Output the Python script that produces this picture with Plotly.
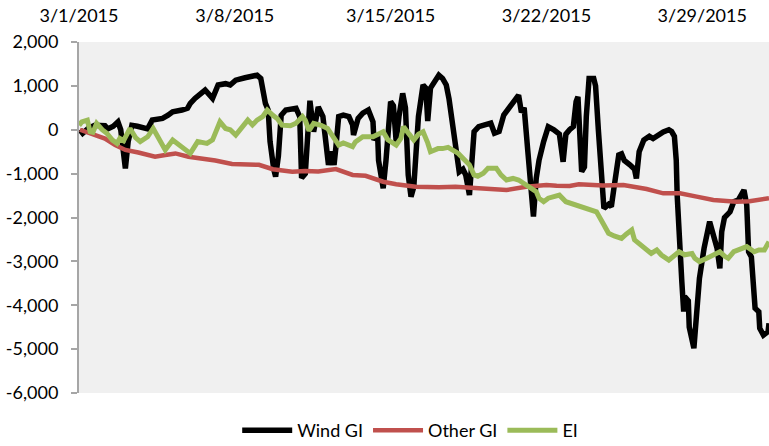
import datetime as dt
import plotly.graph_objects as go

start = dt.datetime(2015, 3, 1)

wind_hours = [1, 4, 10, 17, 28, 31, 37, 42, 45, 50, 53, 57, 63, 68, 74, 79, 90, 96, 101, 111, 117, 120, 125, 136,
              144, 150, 158, 163, 169, 179, 192, 196, 199, 201, 204, 206, 210, 212, 215, 218, 223, 234, 238, 240,
              244, 249, 253, 258, 263, 266, 269, 272, 275, 277, 280, 285, 291, 295, 296, 301, 306, 312, 317, 318,
              322, 323, 328, 331, 336, 339, 342, 345, 349, 352, 355, 358, 361, 366, 371, 374, 376, 379, 383, 388,
              392, 396, 399, 403, 406, 410, 414, 417, 421, 423, 426, 431, 439, 444, 448, 453, 458, 464, 469, 474,
              477, 480, 484, 490, 493, 496, 501, 506, 512, 518, 522, 525, 529, 533, 536, 538, 542, 545, 547, 550,
              555, 557, 560, 563, 566, 571, 574, 577, 582, 585, 588, 594, 599, 601, 604, 609, 615, 619, 625, 630,
              636, 639, 642, 644, 645, 647, 650, 652, 653, 657, 658, 663, 666, 669, 674, 677, 680, 684, 688, 691,
              693, 696, 702, 706, 711, 717, 718, 720, 722, 725, 729, 733, 734, 738, 743, 744]
wind_gi = [0, -80, 30, 100, 90, 20, 80, 180, 0, -880, -270, 100, 80, 60, 20, 220, 260, 330, 410, 450, 490, 600, 715, 905,
           715, 1020, 1050, 1020, 1130, 1185, 1245, 1170, 800, 600, 450, -270, -900, -1070, -600, 330, 450, 490, 300, -1100,
           -1000, 660, -45, 520, 300, -400, -800, -500, -800, -400, 300, 335, 300, 110, -120, 260, 380, 450, 180, -235,
           -100, -700, -1335, -700, 640, 550, -270, 300, 830, 500, -1030, -1525, -1300, 300, 1020, 950, 200, 950, 1090, 1245,
           1170, 1020, 700, 30, -500, -960, -900, -1030, -1490, -900, -45, 70, 110, 150, -80, -40, 335, 490, 640, 790,
           400, 500, -500, -1980, -1110, -700, -270, 70, 0, -100, -730, -100, 0, 70, 640, 750, -955, -850, 300, 1170,
           1170, 1000, 0, -1030, -1790, -1700, -1750, -1300, -575, -550, -700, -800, -900, -1110, -500, -235, -150, -200, -100, -50,
           0, -40, -150, -700, -1500, -2500, -3460, -4145, -3800, -3900, -4500, -4980, -4300, -3385, -2700, -2400, -2095, -2400, -2700, -3160,
           -2325, -2000, -1870, -1640, -1600, -1375, -1500, -1715, -2780, -2900, -4070, -4150, -4525, -4680, -4600, -4410]

other_hours = [1, 17, 28, 39, 50, 64, 82, 93, 104, 118, 133, 147, 165, 179, 194, 209, 230, 244, 258, 277, 295, 309,
               328, 342, 363, 388, 406, 431, 461, 482, 504, 515, 529, 539, 565, 587, 612, 630, 648, 666, 684, 709,
               723, 744]
other_gi = [0, -120, -200, -350, -460, -520, -615, -575, -540, -615, -650, -700, -780, -790, -800, -900, -955, -940, -950,
            -895, -1030, -1050, -1185, -1240, -1300, -1310, -1300, -1335, -1375, -1300, -1260, -1275, -1280, -1245, -1270,
            -1260, -1350, -1450, -1450, -1525, -1600, -1640, -1630, -1560]

ei_hours = [0, 3, 9, 12, 15, 19, 25, 30, 36, 41, 44, 48, 55, 61, 66, 74, 80, 85, 93, 101, 109, 120, 128, 138, 144, 152,
            158, 163, 169, 176, 182, 187, 192, 198, 203, 209, 214, 219, 228, 234, 241, 244, 248, 253, 261, 268, 274,
            280, 285, 291, 295, 298, 306, 317, 322, 328, 333, 342, 347, 350, 356, 361, 366, 371, 376, 379, 387, 392,
            398, 403, 409, 414, 421, 426, 430, 436, 441, 450, 455, 461, 468, 474, 479, 485, 493, 496, 501, 506, 511,
            518, 525, 533, 539, 547, 558, 565, 571, 577, 585, 590, 596, 599, 604, 612, 617, 623, 628, 636, 641, 647,
            653, 661, 664, 669, 677, 684, 691, 696, 700, 706, 712, 720, 728, 733, 739, 743, 744]
ei = [100, 180, 220, -45, -60, 145, 0, -80, -235, -310, -200, -250, 30, -180, -270, -160, 30, -180, -460, -235, -350, -540,
      -270, -310, -230, 180, 30, 0, -120, 60, 220, 110, 220, 300, 450, 330, 250, 105, 90, 150, 300, 220, -20, 145, 100, 30,
      -150, -350, -300, -350, -385, -280, -160, -160, -120, -45, -230, -350, -200, 70, -100, -235, -100, -45, -300, -500,
      -430, -430, -400, -470, -540, -650, -800, -1030, -1060, -990, -880, -880, -1030, -1145, -1110, -1145, -1220, -1300,
      -1410, -1560, -1640, -1560, -1525, -1490, -1640, -1700, -1755, -1790, -1870, -2130, -2360, -2420, -2475, -2380, -2285,
      -2510, -2600, -2740, -2820, -2740, -2855, -2970, -2880, -2780, -2850, -2820, -2930, -3005, -2930, -2855, -2780, -2880,
      -2930, -2780, -2740, -2665, -2780, -2740, -2740, -2625, -2550]

y_ticks = [-6000, -5000, -4000, -3000, -2000, -1000, 0, 1000, 2000]
y_labels = [f"{v:,}" for v in y_ticks]


def to_dates(hours):
    return [start + dt.timedelta(hours=h) for h in hours]


FONT = "Lato, Noto Sans, sans-serif"

fig = go.Figure()
fig.add_trace(go.Scatter(x=to_dates(wind_hours), y=wind_gi, mode="lines", name="Wind GI",
                         line=dict(color="#000000", width=5.5)))
fig.add_trace(go.Scatter(x=to_dates(other_hours), y=other_gi, mode="lines", name="Other GI",
                         line=dict(color="#c0504d", width=4.5)))
fig.add_trace(go.Scatter(x=to_dates(ei_hours), y=ei, mode="lines", name="EI",
                         line=dict(color="#9bbb59", width=5)))

fig.update_layout(
    width=769, height=446,
    margin=dict(l=79, r=0, t=42, b=53, autoexpand=False),
    paper_bgcolor="white",
    plot_bgcolor="#f0f0f0",
    font=dict(family=FONT, size=18, color="#000000"),
    showlegend=True,
    legend=dict(orientation="h", x=0.48, xanchor="center", y=-0.16, yanchor="bottom",
                font=dict(size=18), itemwidth=50, tracegroupgap=0),
    xaxis=dict(
        type="date", side="top", automargin=False,
        range=[start, start + dt.timedelta(days=31)],
        tick0=start, dtick=7 * 24 * 3600 * 1000,
        tickformat="%-m/%-d/%Y",
        showgrid=False, zeroline=False, showline=False, ticks="",
        ticklabelstandoff=15,
    ),
    yaxis=dict(
        range=[-6000, 2000], automargin=False,
        tickvals=y_ticks, ticktext=y_labels,
        showgrid=False, zeroline=False,
        showline=True, linecolor="#a6a6a6", linewidth=2,
        ticks="outside", ticklen=6, tickcolor="#a6a6a6", tickwidth=2,
        ticklabelstandoff=9,
    ),
)

fig.write_html(
    "out.html",
    config={"displayModeBar": False},
    post_script="document.body.style.margin='0';document.body.style.overflow='hidden';",
)
